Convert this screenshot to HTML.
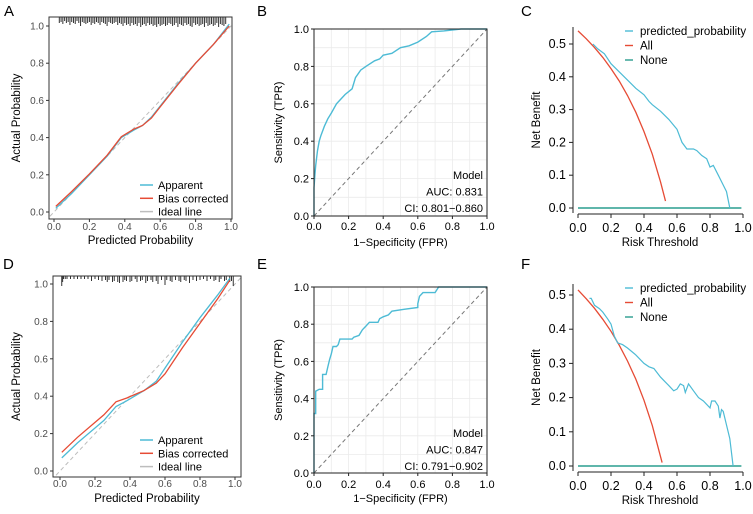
<!DOCTYPE html>
<html><head><meta charset="utf-8"><style>
body{margin:0;background:#fff;width:753px;height:509px;overflow:hidden}
svg{font-family:"Liberation Sans",Arial,sans-serif}
</style></head><body>
<svg id="c" width="753" height="509" viewBox="0 0 753 509"></svg>
<script>
// ---- data ----
const calTicks=[0,0.2,0.4,0.6,0.8,1.0];
const tickLabels=["0.0","0.2","0.4","0.6","0.8","1.0"];
const dcaYTicks=[0,0.1,0.2,0.3,0.4,0.5];
const dcaYLabels=["0.0","0.1","0.2","0.3","0.4","0.5"];
const aApparentX=[0.01,0.1,0.2,0.3,0.38,0.45,0.5,0.55,0.6,0.7,0.8,0.9,0.99];
const aApparentY=[0.02,0.1,0.2,0.3,0.4,0.44,0.465,0.51,0.57,0.69,0.8,0.9,1.01];
const aBiasY=[0.03,0.11,0.205,0.305,0.405,0.445,0.465,0.505,0.565,0.685,0.8,0.9,1.0];
const aRug=[0.03,0.04,0.05,0.06,0.07,0.08,0.09,0.1,0.11,0.12,0.13,0.14,0.15,0.16,0.17,0.18,0.19,0.2,0.21,0.22,0.23,0.24,0.25,0.26,0.27,0.28,0.29,0.3,0.31,0.32,0.33,0.34,0.35,0.36,0.37,0.38,0.39,0.4,0.41,0.42,0.43,0.44,0.45,0.46,0.47,0.48,0.49,0.5,0.51,0.52,0.53,0.54,0.55,0.56,0.57,0.58,0.59,0.6,0.61,0.62,0.63,0.64,0.65,0.66,0.67,0.68,0.69,0.7,0.71,0.72,0.73,0.74,0.75,0.76,0.77,0.78,0.79,0.8,0.81,0.82,0.83,0.84,0.85,0.86,0.87,0.88,0.89,0.9,0.91,0.92,0.93,0.94,0.95,0.96,0.97];
const aRugLen=[6,5,7,4,6,5,8,5,6,7,4,6,9,5,6,7,6,5,8,6,7,5,6,8,5,6,7,9,5,6,7,6,5,8,6,7,9,6,8,7,9,6,8,7,9,6,10,8,7,9,6,8,7,9,8,10,7,9,8,7,9,8,6,7,9,8,6,10,7,8,9,6,8,7,9,10,6,8,7,9,8,7,10,6,9,8,7,9,8,6,10,7,8,9,7];
const dX=[0.01,0.1,0.2,0.25,0.32,0.38,0.48,0.55,0.6,0.7,0.8,0.9,0.97];
const dApparentY=[0.07,0.15,0.23,0.27,0.345,0.375,0.43,0.48,0.55,0.69,0.82,0.94,1.03];
const dBiasY=[0.1,0.18,0.26,0.3,0.37,0.39,0.43,0.47,0.52,0.66,0.79,0.92,1.02];
const dRug=[0.01,0.015,0.02,0.03,0.04,0.06,0.08,0.1,0.12,0.14,0.16,0.18,0.2,0.22,0.24,0.26,0.27,0.28,0.3,0.31,0.33,0.34,0.36,0.37,0.38,0.4,0.41,0.43,0.44,0.46,0.47,0.49,0.5,0.52,0.53,0.55,0.56,0.58,0.6,0.61,0.63,0.64,0.66,0.68,0.69,0.71,0.72,0.74,0.76,0.78,0.8,0.82,0.84,0.86,0.88,0.89,0.91,0.92,0.94,0.95,0.97,0.98,0.99];
const dRugLen=[10,6,3,3,3,3,3,3,3,3,3,5,3,4,5,4,6,4,6,5,6,7,6,4,5,6,5,3,6,5,4,7,5,4,6,5,8,4,9,4,5,6,4,5,6,4,5,7,4,5,4,3,5,3,5,4,6,3,5,4,6,5,10];
const bFpr=[0,0,0.005,0.01,0.02,0.03,0.04,0.06,0.08,0.1,0.13,0.15,0.18,0.22,0.24,0.27,0.3,0.35,0.38,0.4,0.45,0.5,0.55,0.6,0.65,0.68,0.75,0.85,1];
const bTpr=[0,0.15,0.22,0.27,0.35,0.4,0.43,0.48,0.52,0.55,0.6,0.62,0.65,0.68,0.74,0.78,0.8,0.83,0.84,0.86,0.87,0.9,0.91,0.93,0.96,0.985,0.99,1,1];
const eFpr=[0,0,0.01,0.01,0.03,0.05,0.05,0.07,0.08,0.09,0.1,0.11,0.13,0.14,0.15,0.22,0.23,0.26,0.28,0.3,0.32,0.37,0.38,0.4,0.43,0.45,0.52,0.6,0.6,0.61,0.63,0.7,0.72,1];
const eTpr=[0,0.32,0.32,0.44,0.45,0.45,0.53,0.53,0.57,0.61,0.64,0.68,0.68,0.69,0.72,0.72,0.73,0.74,0.77,0.79,0.81,0.81,0.83,0.84,0.85,0.87,0.88,0.89,0.91,0.95,0.97,0.97,1,1];
const cPredX=[0.09,0.12,0.16,0.2,0.25,0.3,0.35,0.4,0.43,0.45,0.5,0.55,0.6,0.63,0.66,0.7,0.72,0.75,0.78,0.8,0.82,0.85,0.88,0.9,0.92];
const cPredY=[0.5,0.485,0.47,0.44,0.415,0.39,0.365,0.345,0.325,0.315,0.295,0.27,0.24,0.2,0.18,0.18,0.175,0.16,0.15,0.125,0.13,0.1,0.07,0.05,0];
const cAllX=[0,0.05,0.1,0.15,0.2,0.25,0.3,0.35,0.4,0.45,0.5,0.53];
const cAllY=[0.54,0.516,0.489,0.459,0.425,0.387,0.343,0.292,0.233,0.164,0.08,0.021];
const fPredX=[0.07,0.08,0.1,0.13,0.15,0.18,0.2,0.22,0.24,0.27,0.3,0.35,0.4,0.43,0.46,0.5,0.55,0.58,0.6,0.62,0.64,0.65,0.67,0.7,0.73,0.76,0.8,0.81,0.83,0.85,0.86,0.87,0.88,0.9,0.92,0.94];
const fPredY=[0.49,0.49,0.47,0.46,0.45,0.43,0.415,0.38,0.36,0.355,0.345,0.325,0.3,0.29,0.285,0.26,0.235,0.22,0.225,0.24,0.235,0.215,0.24,0.22,0.2,0.19,0.17,0.19,0.19,0.175,0.14,0.165,0.16,0.12,0.08,0];
const fAllX=[0,0.05,0.1,0.15,0.2,0.25,0.3,0.35,0.4,0.45,0.51];
const fAllY=[0.515,0.489,0.461,0.429,0.394,0.353,0.307,0.254,0.192,0.118,0.01];
const noneX=[0,0.99];
const noneY=[0,0];

const svg=document.getElementById('c');
const NS='http://www.w3.org/2000/svg';
function mk(tag,attrs,parent){const e=document.createElementNS(NS,tag);for(const k in attrs)e.setAttribute(k,attrs[k]);(parent||svg).appendChild(e);return e;}
function txt(s,x,y,size,fill,anchor,rot){const t=mk('text',{x:x,y:y,'font-size':size,fill:fill,'text-anchor':anchor||'middle'});if(rot)t.setAttribute('transform','rotate(-90 '+x+' '+y+')');t.textContent=s;return t;}
function lin(d0,d1,r0,r1){return v=>r0+(v-d0)/(d1-d0)*(r1-r0);}
function path(xs,ys,sx,sy,stroke,w,dash){let d='';for(let i=0;i<xs.length;i++)d+=(i?'L':'M')+sx(xs[i]).toFixed(1)+','+sy(ys[i]).toFixed(1);const p=mk('path',{d:d,fill:'none',stroke:stroke,'stroke-width':w});if(dash)p.setAttribute('stroke-dasharray',dash);return p;}
const BLUE='#4DBBD5',RED='#E64B35',TEAL='#2a9d8f';

function label(s,x,y){const t=txt(s,x,y,15,'#000','start');}

// ---- calibration panels ----
function calPanel(id,box,x0,x1,y0,y1,xs,app,bias,rug,rugLen,legY,xtY,xtitleY){
  const sx=lin(0,1,x0,x1), sy=lin(0,1,y0,y1);
  const g=mk('g',{});
  const cp=mk('clipPath',{id:'clip'+id},g);mk('rect',{x:box[0],y:box[1],width:box[2]-box[0],height:box[3]-box[1]},cp);
  const inner=mk('g',{'clip-path':'url(#clip'+id+')'},g);
  const ideal=mk('line',{x1:sx(-0.05),y1:sy(-0.05),x2:sx(1.05),y2:sy(1.05),stroke:'#bdbdbd','stroke-width':1,'stroke-dasharray':'4,3'},inner);
  
  for(let i=0;i<rug.length;i++){const r=mk('line',{x1:sx(rug[i]),x2:sx(rug[i]),y1:box[1],y2:box[1]+rugLen[i],stroke:'#333','stroke-width':1},inner);}
  const a=path(xs,app,sx,sy,BLUE,1.3);inner.appendChild(a);
  const b=path(xs,bias,sx,sy,RED,1.3);inner.appendChild(b);
  const fr=mk('rect',{x:box[0],y:box[1],width:box[2]-box[0],height:box[3]-box[1],fill:'none',stroke:'#333','stroke-width':1},g);
  calTicks.forEach((v,i)=>{
    mk('line',{x1:sx(v),x2:sx(v),y1:box[3],y2:box[3]+3,stroke:'#333'},g);
    mk('line',{x1:box[0]-3,x2:box[0],y1:sy(v),y2:sy(v),stroke:'#333'},g);
    const tx=txt(tickLabels[i],sx(v),xtY,10,'#4d4d4d');
    const ty=txt(tickLabels[i],box[0]-5,sy(v)+3.5,10,'#4d4d4d','end');
  });
  const xt=txt('Predicted Probability',(box[0]+box[2])/2,xtitleY,11.5,'#000');
  const yt=txt('Actual Probability',20,(box[1]+box[3])/2,11.5,'#000','middle',true);
  const items=[['Apparent',BLUE],['Bias corrected',RED],['Ideal line','#bdbdbd']];
  items.forEach((it,i)=>{const y=legY+i*13.3;const l=mk('line',{x1:140,x2:153,y1:y,y2:y,stroke:it[1],'stroke-width':1.5},g);const t=txt(it[0],158,y+4,11,'#000','start');});
}
calPanel('a',[49,17,232,219],54,231,212,26,aApparentX,aApparentY,aBiasY,aRug,aRugLen,185,230,244);
calPanel('d',[53,276,241,477],60,235,471,284,dX,dApparentY,dBiasY,dRug,dRugLen,440,487,502);

// ---- ROC panels ----
function rocPanel(id,box,fpr,tpr,auc,ci,textY,xtY,xtitleY){
  const sx=lin(0,1,box[0],box[2]), sy=lin(0,1,box[3],box[1]);
  const g=mk('g',{});
  for(let v=0;v<=1.0001;v+=0.1){
    mk('line',{x1:sx(v),x2:sx(v),y1:box[1],y2:box[3],stroke:'#ebebeb','stroke-width':0.8},g);
    mk('line',{x1:box[0],x2:box[2],y1:sy(v),y2:sy(v),stroke:'#ebebeb','stroke-width':0.8},g);
  }
  const dg=mk('line',{x1:sx(0),y1:sy(0),x2:sx(1),y2:sy(1),stroke:'#777','stroke-width':1,'stroke-dasharray':'4,3'},g);
  const r=path(fpr,tpr,sx,sy,BLUE,1.4);g.appendChild(r);
  const fr=mk('rect',{x:box[0],y:box[1],width:box[2]-box[0],height:box[3]-box[1],fill:'none',stroke:'#222','stroke-width':1},g);
  calTicks.forEach((v,i)=>{
    mk('line',{x1:sx(v),x2:sx(v),y1:box[3],y2:box[3]+3,stroke:'#222'},g);
    mk('line',{x1:box[0]-3,x2:box[0],y1:sy(v),y2:sy(v),stroke:'#222'},g);
    const tx=txt(tickLabels[i],sx(v),xtY,11,'#000');
    const ty=txt(tickLabels[i],box[0]-5,sy(v)+4,11,'#000','end');
  });
  const lines=['Model','AUC: '+auc,'CI: '+ci];
  lines.forEach((s,i)=>{const t=txt(s,483,textY+i*16.5,11,'#000','end');});
  const xt=txt('1\u2212Specificity (FPR)',(box[0]+box[2])/2,xtitleY,11,'#000');
  const yt=txt('Sensitivity (TPR)',282,(box[1]+box[3])/2,11,'#000','middle',true);
}
rocPanel('b',[314,29,487,216],bFpr,bTpr,'0.831','0.801\u22120.860',179,230,246);
rocPanel('e',[314,287,487,473],eFpr,eTpr,'0.847','0.791\u22120.902',437,488,502);

// ---- DCA panels ----
function dcaPanel(id,x0,x1,y0,y5,axTop,axBot,pX,pY,aX,aY,legY,xtY,xtitleY){
  const sx=lin(0,1,x0,x1), sy=lin(0,0.5,y0,y5);
  const g=mk('g',{});
  mk('line',{x1:573,x2:573,y1:axTop,y2:axBot,stroke:'#222'},g);
  mk('line',{x1:x0,x2:x1,y1:axBot+1,y2:axBot+1,stroke:'#222'},g);
  calTicks.forEach((v,i)=>{mk('line',{x1:sx(v),x2:sx(v),y1:axBot+1,y2:axBot+5,stroke:'#222'},g);
    const t=txt(tickLabels[i],sx(v),xtY,12.5,'#000');});
  dcaYTicks.forEach((v,i)=>{mk('line',{x1:569,x2:573,y1:sy(v),y2:sy(v),stroke:'#222'},g);
    const t=txt(dcaYLabels[i],566,sy(v)+4,12.5,'#000','end');});
  const n=path(noneX,noneY,sx,sy,TEAL,1.4);g.appendChild(n);
  const a=path(aX,aY,sx,sy,RED,1.3);g.appendChild(a);
  const p=path(pX,pY,sx,sy,BLUE,1.2);g.appendChild(p);
  [['predicted_probability',BLUE],['All',RED],['None',TEAL]].forEach((it,i)=>{const y=legY+i*14.5;const l=mk('line',{x1:625,x2:633,y1:y,y2:y,stroke:it[1],'stroke-width':1.4},g);const t=txt(it[0],640,y+4,11.5,'#000','start');});
  const xt=txt('Risk Threshold',660,xtitleY,11.5,'#000');
  const yt=txt('Net Benefit',540,(axTop+axBot)/2,11.5,'#000','middle',true);
}
dcaPanel('c',578,743,208,44,27,213,cPredX,cPredY,cAllX,cAllY,31,232,246);
dcaPanel('f',578,743,466,295,284,471,fPredX,fPredY,fAllX,fAllY,288,490,504);

label('A',4,16);label('B',257,16);label('C',521,16);
label('D',3,269);label('E',257,269);label('F',521,269);
</script>
</body></html>
